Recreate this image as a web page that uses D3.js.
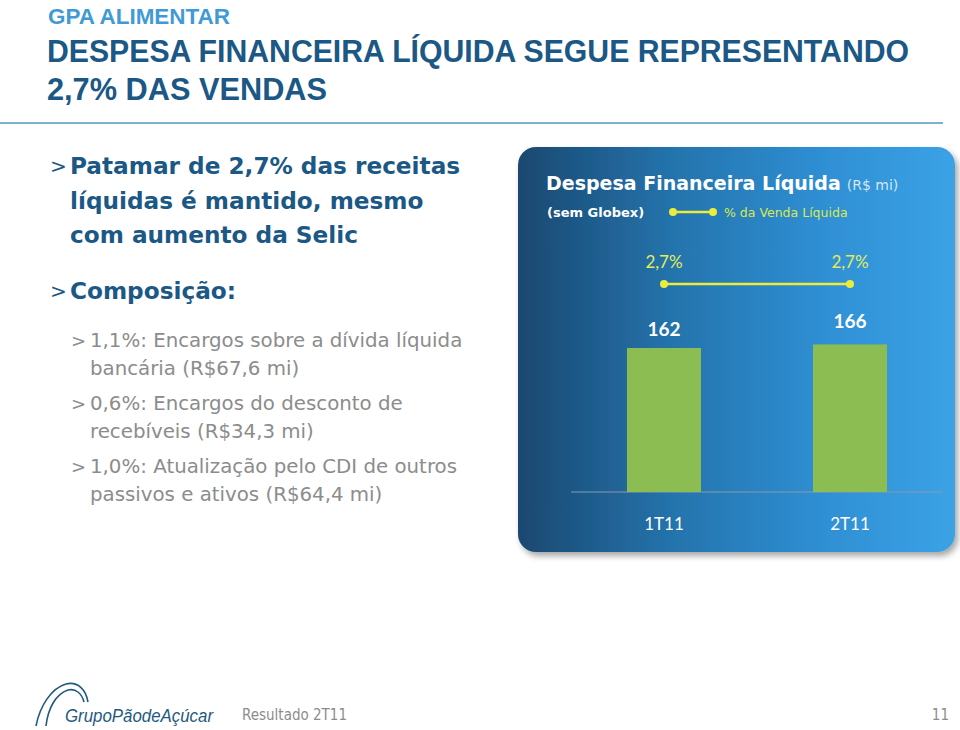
<!DOCTYPE html>
<html>
<head>
<meta charset="utf-8">
<script src="https://cdn.jsdelivr.net/npm/d3@7"></script>
<style>
  body { margin: 0; background: #fff; }
  svg { display: block; }
</style>
</head>
<body>
<div id="chart"></div>
<script>
// data
const quarters = ["1T11", "2T11"];
const despesa = [162, 166];
const pctVenda = ["2,7%", "2,7%"];

const bullets = [
  ["Patamar de 2,7% das receitas", "líquidas é mantido, mesmo", "com aumento da Selic"],
  ["Composição:"]
];
const subBullets = [
  ["1,1%: Encargos sobre a dívida líquida", "bancária (R$67,6 mi)"],
  ["0,6%: Encargos do desconto de", "recebíveis (R$34,3 mi)"],
  ["1,0%: Atualização pelo CDI de outros", "passivos e ativos (R$64,4 mi)"]
];

const width = 960;
const height = 730;

const svg = d3.select("#chart")
  .append("svg")
  .attr("width", width)
  .attr("height", height);

const defs = svg.append("defs");

const grad = defs.append("linearGradient")
  .attr("id", "panelGrad")
  .attr("x1", "0%").attr("x2", "100%")
  .attr("y1", "0%").attr("y2", "0%");
grad.append("stop").attr("offset", "0%").attr("stop-color", "#1a4870");
grad.append("stop").attr("offset", "35%").attr("stop-color", "#2473ac");
grad.append("stop").attr("offset", "70%").attr("stop-color", "#2f8fd4");
grad.append("stop").attr("offset", "100%").attr("stop-color", "#3ba2e6");

const shadow = defs.append("filter").attr("id", "shadow")
  .attr("x", "-5%").attr("y", "-5%").attr("width", "115%").attr("height", "115%");
shadow.append("feDropShadow")
  .attr("dx", 3).attr("dy", 4).attr("stdDeviation", 3)
  .attr("flood-color", "#000").attr("flood-opacity", 0.35);

// header
svg.append("text")
  .attr("x", 48).attr("y", 24)
  .attr("font-family", "Liberation Sans Narrow, Liberation Sans, sans-serif")
  .attr("font-weight", "bold")
  .attr("font-size", 22)
  .attr("fill", "#3f9ad6")
  .attr("textLength", 182)
  .attr("lengthAdjust", "spacingAndGlyphs")
  .text("GPA ALIMENTAR");

const titleLines = ["DESPESA FINANCEIRA LÍQUIDA SEGUE REPRESENTANDO", "2,7% DAS VENDAS"];
const titleLens = [862, 280];
titleLines.forEach((t, i) => {
  svg.append("text")
    .attr("x", 47).attr("y", 62 + i * 38)
    .attr("font-family", "Liberation Sans Narrow, Liberation Sans, sans-serif")
    .attr("font-weight", "bold")
    .attr("font-size", 32)
    .attr("fill", "#1b5885")
    .attr("textLength", titleLens[i])
    .attr("lengthAdjust", "spacingAndGlyphs")
    .text(t);
});

svg.append("line")
  .attr("x1", 0).attr("x2", 943)
  .attr("y1", 123).attr("y2", 123)
  .attr("stroke", "#7eb2cf")
  .attr("stroke-width", 2);

// left text
const leftFont = "DejaVu Sans, Verdana, sans-serif";
const mainY = [174, 299];
bullets.forEach((lines, i) => {
  svg.append("text")
    .attr("x", 50).attr("y", mainY[i] - 1)
    .attr("font-family", leftFont)
    .attr("font-size", 20)
    .attr("fill", "#1b5885")
    .text(">");
  lines.forEach((l, j) => {
    svg.append("text")
      .attr("x", 70).attr("y", mainY[i] + j * 34.5)
      .attr("font-family", leftFont)
      .attr("font-weight", "bold")
      .attr("font-size", 23.2)
      .attr("fill", "#1b5885")
      .text(l);
  });
});

subBullets.forEach((lines, i) => {
  const y0 = 347 + i * 63;
  svg.append("text")
    .attr("x", 71).attr("y", y0)
    .attr("font-family", leftFont)
    .attr("font-size", 18)
    .attr("fill", "#8c8c8c")
    .text(">");
  lines.forEach((l, j) => {
    svg.append("text")
      .attr("x", 90).attr("y", y0 + j * 28)
      .attr("font-family", leftFont)
      .attr("font-size", 19.8)
      .attr("fill", "#8c8c8c")
      .text(l);
  });
});

// chart panel
svg.append("rect")
  .attr("x", 518).attr("y", 147)
  .attr("width", 437).attr("height", 405)
  .attr("rx", 18)
  .attr("fill", "url(#panelGrad)")
  .attr("filter", "url(#shadow)");

const panelTitle = svg.append("text")
  .attr("x", 546).attr("y", 190)
  .attr("font-family", leftFont)
  .attr("fill", "#fff");
panelTitle.append("tspan")
  .attr("font-weight", "bold")
  .attr("font-size", 19)
  .text("Despesa Financeira Líquida");
panelTitle.append("tspan")
  .attr("font-size", 14)
  .attr("fill", "#d6e6f2")
  .attr("dx", 6)
  .text("(R$ mi)");

svg.append("text")
  .attr("x", 547).attr("y", 217)
  .attr("font-family", leftFont)
  .attr("font-weight", "bold")
  .attr("font-size", 13)
  .attr("fill", "#fff")
  .text("(sem Globex)");

// legend
svg.append("line")
  .attr("x1", 673).attr("x2", 713)
  .attr("y1", 212).attr("y2", 212)
  .attr("stroke", "#ecec3a").attr("stroke-width", 2.5);
[673, 713].forEach(cx => {
  svg.append("circle")
    .attr("cx", cx).attr("cy", 212).attr("r", 4)
    .attr("fill", "#ecec3a");
});
svg.append("text")
  .attr("x", 724).attr("y", 217)
  .attr("font-family", leftFont)
  .attr("font-size", 12.5)
  .attr("fill", "#d8ea4c")
  .text("% da Venda Líquida");

// scales
const x = d3.scalePoint()
  .domain(quarters)
  .range([571, 943])
  .padding(0.5);

const y = d3.scaleLinear()
  .domain([0, 180])
  .range([492, 332]);

const barWidth = 74;
const chartFont = "Lato, Open Sans, sans-serif";

// baseline
svg.append("line")
  .attr("x1", 571).attr("x2", 943)
  .attr("y1", y(0)).attr("y2", y(0))
  .attr("stroke", "#8a9aa8").attr("stroke-width", 1.2);

svg.selectAll("rect.bar")
  .data(quarters)
  .enter()
  .append("rect")
  .attr("class", "bar")
  .attr("x", d => x(d) - barWidth / 2)
  .attr("y", (d, i) => y(despesa[i]))
  .attr("width", barWidth)
  .attr("height", (d, i) => y(0) - y(despesa[i]))
  .attr("fill", "#8bbd52");

svg.selectAll("text.val")
  .data(quarters)
  .enter()
  .append("text")
  .attr("class", "val")
  .attr("x", d => x(d))
  .attr("y", (d, i) => y(despesa[i]) - 12 - i * 4)
  .attr("text-anchor", "middle")
  .attr("font-family", chartFont)
  .attr("font-weight", "bold")
  .attr("font-size", 19)
  .attr("fill", "#fff")
  .text((d, i) => despesa[i]);

// x labels
svg.selectAll("text.xlab")
  .data(quarters)
  .enter()
  .append("text")
  .attr("class", "xlab")
  .attr("x", d => x(d))
  .attr("y", 530)
  .attr("text-anchor", "middle")
  .attr("font-family", chartFont)
  .attr("font-size", 17)
  .attr("fill", "#fff")
  .text(d => d);

// percent line
const pctY = 284;
svg.append("path")
  .datum(quarters)
  .attr("d", d3.line().x(d => x(d)).y(() => pctY))
  .attr("stroke", "#ecec3a")
  .attr("stroke-width", 2.5)
  .attr("fill", "none");

svg.selectAll("circle.pct")
  .data(quarters)
  .enter()
  .append("circle")
  .attr("class", "pct")
  .attr("cx", d => x(d))
  .attr("cy", pctY)
  .attr("r", 4)
  .attr("fill", "#ecec3a");

svg.selectAll("text.pct")
  .data(quarters)
  .enter()
  .append("text")
  .attr("class", "pct")
  .attr("x", d => x(d))
  .attr("y", 268)
  .attr("text-anchor", "middle")
  .attr("font-family", chartFont)
  .attr("font-size", 17)
  .attr("fill", "#e2ec5a")
  .text((d, i) => pctVenda[i]);

// footer logo
const logo = svg.append("g").attr("fill", "none").attr("stroke", "#1f5a7f").attr("stroke-width", 1.6);
logo.append("path").attr("d", "M36,726 C40,705 52,688 66,684 C78,681 86,690 88,702");
logo.append("path").attr("d", "M46,726 C48,708 56,694 68,690 C76,688 82,694 84,702");
svg.append("text")
  .attr("x", 65).attr("y", 722)
  .attr("font-family", "Liberation Sans Narrow, Liberation Sans, sans-serif")
  .attr("font-style", "italic")
  .attr("font-size", 19)
  .attr("fill", "#1f5a7f")
  .attr("textLength", 148)
  .attr("lengthAdjust", "spacingAndGlyphs")
  .text("GrupoPãodeAçúcar");

svg.append("text")
  .attr("x", 242).attr("y", 720)
  .attr("font-family", "DejaVu Sans Condensed, DejaVu Sans, sans-serif")
  .attr("font-size", 15)
  .attr("fill", "#8c8c8c")
  .text("Resultado 2T11");

svg.append("text")
  .attr("x", 949).attr("y", 720)
  .attr("text-anchor", "end")
  .attr("font-family", "DejaVu Sans Condensed, DejaVu Sans, sans-serif")
  .attr("font-size", 15)
  .attr("fill", "#8c8c8c")
  .text("11");
</script>
</body>
</html>
